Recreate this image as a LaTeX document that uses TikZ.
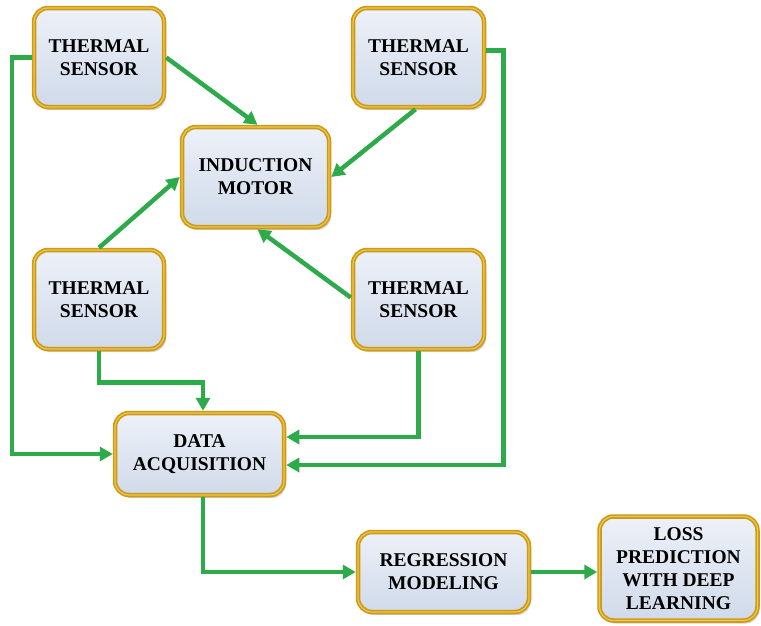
\documentclass[tikz,border=0pt]{standalone}
\usepackage{fontspec}
\setmainfont{Liberation Serif}
\usetikzlibrary{arrows.meta,shadows,calc}
\definecolor{boxtop}{HTML}{EDF1F8}
\definecolor{boxbot}{HTML}{D0DAEA}
\definecolor{gold}{HTML}{CC9A18}
\definecolor{goldlight}{HTML}{EEC848}
\definecolor{arrgreen}{HTML}{2DAA4A}
\tikzset{
  blk/.style={rectangle, rounded corners=14pt, draw=gold, line width=4.5pt,
    top color=boxtop, bottom color=boxbot, align=center,
    font=\bfseries\fontsize{19.5}{23}\selectfont, inner sep=2pt,
    drop shadow={opacity=0.35, shadow xshift=2pt, shadow yshift=-3pt},
    postaction={draw=goldlight, line width=1.2pt}},
  con/.style={draw=arrgreen, line width=4.5pt,
    -{Triangle[length=13pt,width=14pt]}},
}
\begin{document}
\begin{tikzpicture}[x=1pt,y=-1pt]
\useasboundingbox (0,0) rectangle (761,625);
\node[blk, minimum width=130pt, minimum height=99pt] (ts1) at (99,57.5) {THERMAL\\SENSOR};
\node[blk, minimum width=131pt, minimum height=99pt] (ts2) at (418.5,57.5) {THERMAL\\SENSOR};
\node[blk, minimum width=147pt, minimum height=100pt] (im) at (255.5,177) {INDUCTION\\MOTOR};
\node[blk, minimum width=130pt, minimum height=99pt] (ts3) at (99,299.5) {THERMAL\\SENSOR};
\node[blk, minimum width=131pt, minimum height=99pt] (ts4) at (418.5,299.5) {THERMAL\\SENSOR};
\node[blk, minimum width=169pt, minimum height=82pt] (da) at (199.5,454) {DATA\\ACQUISITION};
\node[blk, minimum width=171pt, minimum height=80pt] (rm) at (443.5,572) {REGRESSION\\MODELING};
\node[blk, minimum width=158pt, minimum height=104pt] (lp) at (678.5,568.5) {LOSS\\PREDICTION\\WITH DEEP\\LEARNING};

\draw[con] (ts1.east) -- ([xshift=2pt]im.north);
\draw[con] ([xshift=-3pt]ts2.south) -- (im.east);
\draw[con] (ts3.north) -- (im.west);
\draw[con] ([yshift=2pt]ts4.west) -- ([xshift=2pt]im.south);

\draw[con] (ts1.west) -- ++(-20,0) |- (da.west);
\draw[con] ([yshift=7pt]ts2.east) -- ++(17,0) |- ([yshift=-11pt]da.east);
\draw[con] (ts3.south) -- ++(0,31) -| ([xshift=3.5pt]da.north);
\draw[con] (ts4.south) |- ([yshift=17pt]da.east);
\draw[con] ([xshift=3.5pt]da.south) |- (rm.west);
\draw[con] (rm.east) -- (rm.east -| lp.west);
\end{tikzpicture}
\end{document}
